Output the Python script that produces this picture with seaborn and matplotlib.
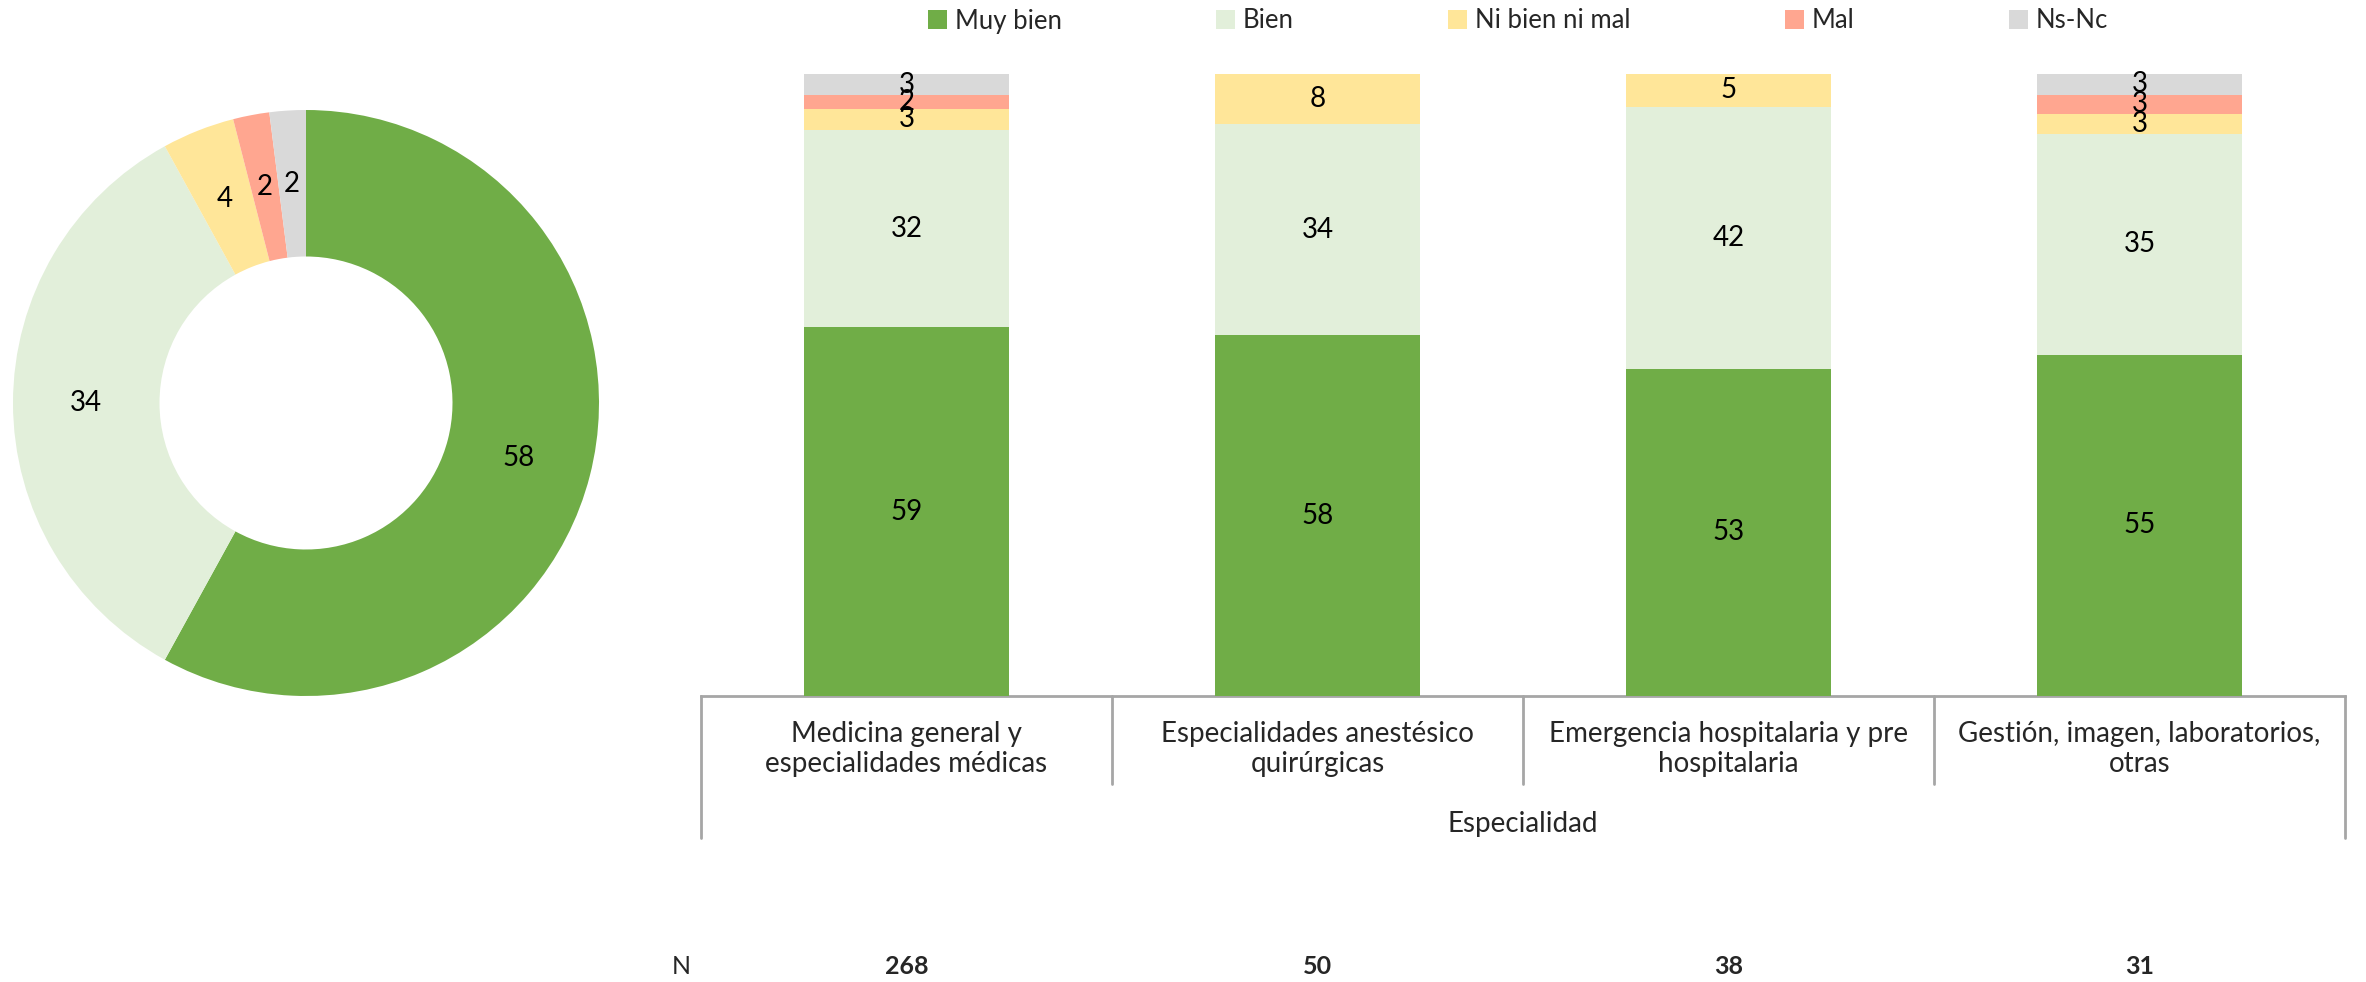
import matplotlib
matplotlib.use("Agg")
import matplotlib.pyplot as plt
import seaborn as sns
import numpy as np
import pandas as pd

# ---------------- data ----------------
levels = ["Muy bien", "Bien", "Ni bien ni mal", "Mal", "Ns-Nc"]
colors = ["#70AD47", "#E2EFDA", "#FFE699", "#FFA690", "#D9D9D9"]

pie_values = [58, 34, 4, 2, 2]

categories = ["Medicina general y\nespecialidades médicas",
              "Especialidades anestésico\nquirúrgicas",
              "Emergencia hospitalaria y pre\nhospitalaria",
              "Gestión, imagen, laboratorios,\notras"]
muy_bien = [59.3, 58.0, 52.6, 54.9]
bien = [31.7, 34.0, 42.1, 35.4]
ni_bien = [3.4, 8.0, 5.3, 3.2]
mal = [2.2, 0.0, 0.0, 3.2]
ns_nc = [3.4, 0.0, 0.0, 3.3]
n_values = ["268", "50", "38", "31"]
axis_title = "Especialidad"

series = [muy_bien, bien, ni_bien, mal, ns_nc]

# ---------------- style ----------------
sns.set_theme(style="white")
plt.rcParams["font.family"] = ["Lato", "DejaVu Sans"]
W, H = 2366, 982
fig = plt.figure(figsize=(W / 100, H / 100), dpi=100)

# ---------------- donut ----------------
pax = fig.add_axes([13 / W, 1 - 696 / H, 586 / W, 586 / H])
wedges, texts = pax.pie(pie_values, colors=colors, startangle=90, counterclock=False,
                        radius=1.0, wedgeprops=dict(width=0.5, linewidth=0),
                        labels=[f"{v:.0f}" for v in pie_values], labeldistance=0.75,
                        textprops=dict(fontsize=20, color="black", ha="center", va="center"))
for t in texts:
    t.set_ha("center")
    t.set_va("center")
pax.set_xlim(-1, 1)
pax.set_ylim(-1, 1)
pax.set_aspect("equal")
pax.axis("off")

# ---------------- stacked bars ----------------
ax = fig.add_axes([701 / W, 1 - 696 / H, (2345 - 701) / W, (696 - 74) / H])
df = pd.DataFrame({"cat": categories})
cum = np.zeros(len(categories))
cums = []
for s in series:
    cum = cum + np.array(s)
    cums.append(cum.copy())
# draw from top layer down so lower layers cover upper totals
for i in range(len(series) - 1, -1, -1):
    d = df.copy()
    d["val"] = cums[i]
    sns.barplot(data=d, x="cat", y="val", color=colors[i], width=0.5,
                saturation=1, ax=ax, label=levels[i], linewidth=0, zorder=2 + (len(series) - i))
if ax.get_legend() is not None:
    ax.get_legend().remove()

# labels at segment centers
for i, s in enumerate(series):
    for j, v in enumerate(s):
        if v <= 0:
            continue
        yc = cums[i][j] - v / 2
        ax.text(j, yc, f"{v:.0f}", ha="center", va="center", fontsize=20, color="black", zorder=20)

ax.set_ylim(0, 100)
ax.set_xlim(-0.5, len(categories) - 0.5)
ax.set_yticks([])
ax.set_xlabel("")
ax.set_ylabel("")
for sp in ["top", "right", "left"]:
    ax.spines[sp].set_visible(False)
ax.spines["bottom"].set_color("#A6A6A6")
ax.spines["bottom"].set_linewidth(2)
ax.set_xticks(range(len(categories)))
ax.set_xticklabels(categories, fontsize=20, linespacing=1.2)
ax.tick_params(axis="x", length=0, pad=18)

# category separators
trans = ax.get_xaxis_transform()
axh = 696 - 74
for k in range(len(categories) + 1):
    x = k - 0.5
    outer = k == 0 or k == len(categories)
    y2 = -(838 - 696) / axh if outer else -(784 - 696) / axh
    ax.plot([x, x], [0, y2], transform=trans, color="#A6A6A6", lw=2, clip_on=False)

ax.text((len(categories) - 1) / 2, -(824 - 696) / axh, axis_title, transform=trans,
        ha="center", va="center", fontsize=20)

# N row
ny = -(967 - 696) / axh
ax.text(-0.5 - (701 - 681) / ((2345 - 701) / 4), ny, "N", transform=trans,
        ha="center", va="center", fontsize=18)
for j, n in enumerate(n_values):
    ax.text(j, ny, n, transform=trans, ha="center", va="center", fontsize=18, fontweight="bold")

# legend
handles, labs = ax.get_legend_handles_labels()
order = [labs.index(l) for l in levels]
leg = fig.legend([handles[o] for o in order], [labs[o] for o in order],
                 loc="center", bbox_to_anchor=(1518 / W, 1 - 21 / H), ncol=5, frameon=False,
                 fontsize=18.5, handlelength=0.75, handleheight=0.75, handletextpad=0.3,
                 columnspacing=6.0, borderaxespad=0, borderpad=0)

fig.savefig("out.png", dpi=100)
